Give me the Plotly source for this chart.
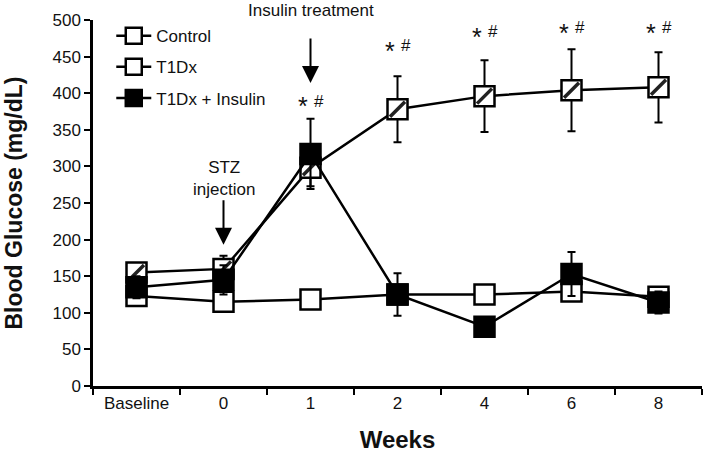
import plotly.graph_objects as go

# Data
weeks = ['Baseline', '0', '1', '2', '4', '6', '8']

control = [123, 115, 118, 125, 125, 129, 122]
control_err = [8, 6, 6, 6, 6, 8, 8]

t1dx = [155, 160, 298, 378, 396, 404, 408]
t1dx_err = [12, 18, 25, 45, 49, 56, 48]

insulin = [135, 145, 317, 125, 81, 153, 114]
insulin_err = [15, 20, 48, 29, 13, 30, 15]

sig_weeks = ['1', '2', '4', '6', '8']
sig_y = [386, 462, 481, 487, 487]

FONT = 'Liberation Sans, Arial, sans-serif'

fig = go.Figure()

# Control
fig.add_trace(go.Scatter(
    x=weeks, y=control, name='Control', mode='lines+markers', legendgroup='c',
    line=dict(color='black', width=2.5),
    marker=dict(symbol='square', size=20, color='white', line=dict(color='black', width=2.5)),
    error_y=dict(type='data', array=control_err, color='black', thickness=2, width=4)
))

# T1Dx
fig.add_trace(go.Scatter(
    x=weeks, y=t1dx, name='T1Dx', mode='lines+markers', legendgroup='t',
    line=dict(color='black', width=2.5),
    marker=dict(symbol='square', size=20, color='white', line=dict(color='black', width=2.5)),
    error_y=dict(type='data', array=t1dx_err, color='black', thickness=2, width=4)
))
# hatch stripe on T1Dx markers
fig.add_trace(go.Scatter(
    x=weeks, y=t1dx, mode='markers', showlegend=False, hoverinfo='skip', legendgroup='t',
    marker=dict(symbol='line-ne', size=15, line=dict(color='#222', width=3.5))
))

# T1Dx + Insulin
fig.add_trace(go.Scatter(
    x=weeks, y=insulin, name='T1Dx + Insulin', mode='lines+markers', legendgroup='i',
    line=dict(color='black', width=2.5),
    marker=dict(symbol='square', size=20, color='black', line=dict(color='black', width=2.5)),
    error_y=dict(type='data', array=insulin_err, color='black', thickness=2, width=4)
))

# Significance markers (category index used for x position)
for wk, yv in zip(sig_weeks, sig_y):
    xi = weeks.index(wk)
    fig.add_annotation(x=xi, y=yv, text='*', showarrow=False, xshift=-8, yshift=-3,
                       font=dict(size=25, family=FONT, color='#111'))
    fig.add_annotation(x=xi, y=yv, text='#', showarrow=False, xshift=8, yshift=2,
                       font=dict(size=17, family=FONT, color='#111'))

# Treatment arrows
ins_x = weeks.index('1')
stz_x = weeks.index('0')
fig.add_annotation(x=ins_x, y=500, text='Insulin treatment', showarrow=False,
                   yanchor='bottom', yshift=-2, font=dict(size=17, family=FONT, color='#111'))
fig.add_annotation(x=ins_x, y=414, ax=0, ay=-46, text='', showarrow=True,
                   arrowhead=2, arrowsize=1.7, arrowwidth=2, arrowcolor='black')
fig.add_annotation(x=stz_x, y=284, text='STZ<br>injection', showarrow=False,
                   font=dict(size=17, family=FONT, color='#111'))
fig.add_annotation(x=stz_x, y=193, ax=0, ay=-46, text='', showarrow=True,
                   arrowhead=2, arrowsize=1.7, arrowwidth=2, arrowcolor='black')

fig.update_layout(
    width=708, height=460,
    margin=dict(l=93, r=6, t=20, b=74),
    plot_bgcolor='white', paper_bgcolor='white',
    font=dict(family=FONT, size=17, color='#111'),
    showlegend=True,
    legend=dict(x=0.03, y=1.005, xanchor='left', yanchor='top',
                bgcolor='rgba(0,0,0,0)', font=dict(size=17, family=FONT),
                itemwidth=35, tracegroupgap=6),
    xaxis=dict(
        type='category', range=[-0.5, 6.5], tickson='boundaries',
        showline=True, linecolor='black', linewidth=2.5,
        ticks='outside', ticklen=6, tickwidth=2, tickcolor='black',
        showgrid=False, zeroline=False, automargin=False,
        title=dict(text='<b>Weeks</b>', font=dict(size=24, family=FONT), standoff=20)
    ),
    yaxis=dict(
        range=[0, 500], dtick=50,
        showline=True, linecolor='black', linewidth=2.5,
        ticks='outside', ticklen=6, tickwidth=2, tickcolor='black',
        showgrid=False, zeroline=False, automargin=False,
        title=dict(text='<b>Blood Glucose (mg/dL)</b>', font=dict(size=23, family=FONT), standoff=24)
    )
)

# drop the default page margin so the figure sits at the window's corner
fig.write_html('out.html', config={'displayModeBar': False},
               post_script="document.body.style.margin='0';")
